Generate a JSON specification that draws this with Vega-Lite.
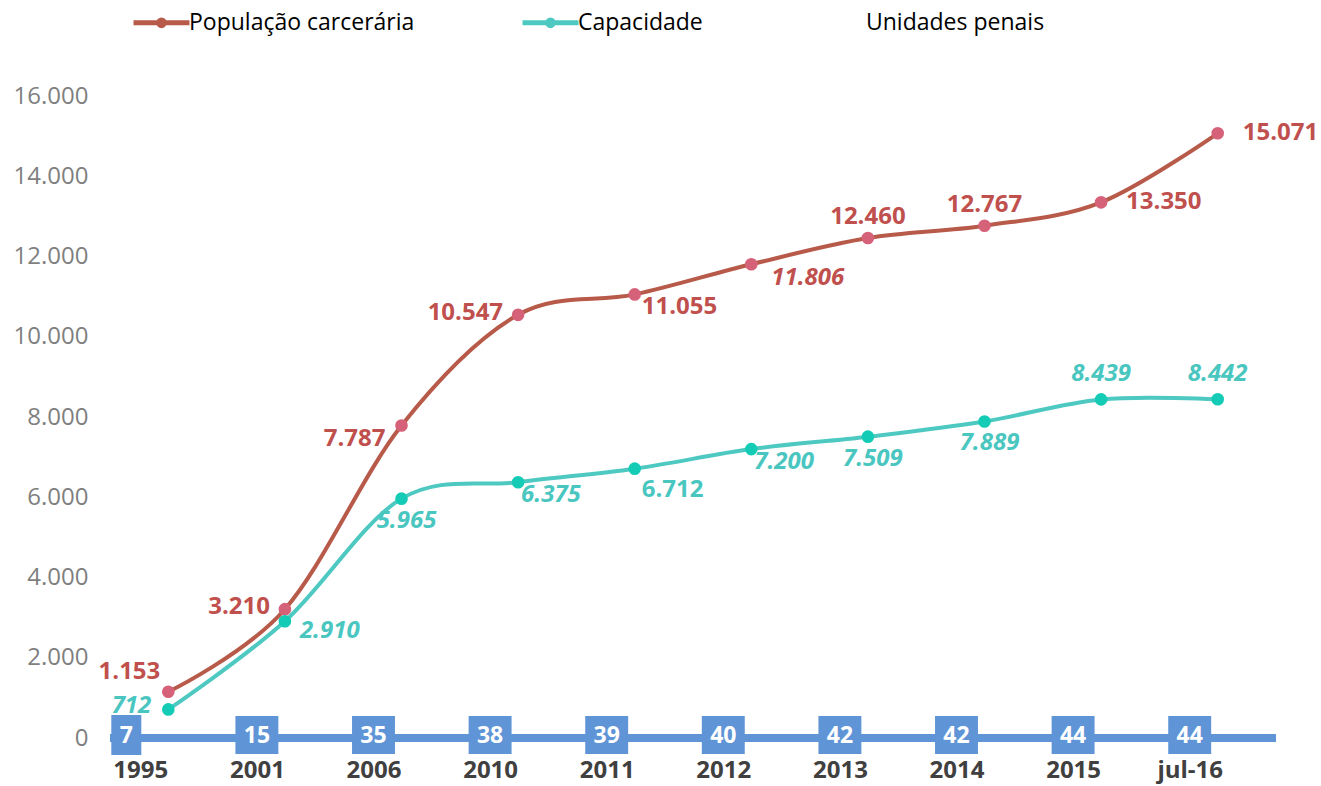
{
  "$schema": "https://vega.github.io/schema/vega-lite/v6.json",
  "width": 1166,
  "height": 642,
  "autosize": "none",
  "padding": {"left": 110, "top": 96, "right": 45, "bottom": 48},
  "background": "#ffffff",
  "config": {
    "locale": {"number": {"decimal": ",", "thousands": ".", "grouping": [3], "currency": ["R$", ""]}},
    "view": {"stroke": null},
    "font": "Open Sans"
  },
  "data": {
    "values": [
      {"ano": "1995", "pop": 1153, "cap": 712, "unid": 7},
      {"ano": "2001", "pop": 3210, "cap": 2910, "unid": 15},
      {"ano": "2006", "pop": 7787, "cap": 5965, "unid": 35},
      {"ano": "2010", "pop": 10547, "cap": 6375, "unid": 38},
      {"ano": "2011", "pop": 11055, "cap": 6712, "unid": 39},
      {"ano": "2012", "pop": 11806, "cap": 7200, "unid": 40},
      {"ano": "2013", "pop": 12460, "cap": 7509, "unid": 42},
      {"ano": "2014", "pop": 12767, "cap": 7889, "unid": 42},
      {"ano": "2015", "pop": 13350, "cap": 8439, "unid": 44},
      {"ano": "jul-16", "pop": 15071, "cap": 8442, "unid": 44}
    ]
  },
  "layer": [
    {
      "mark": {"type": "rule", "color": "#5f95d7", "strokeWidth": 8},
      "encoding": {"y": {"datum": 0, "type": "quantitative"}}
    },
    {
      "encoding": {
        "x": {
          "field": "ano", "type": "ordinal", "sort": null, "title": null,
          "scale": {"type": "point", "padding": 0.5},
          "axis": {"labelAngle": 0, "domain": false, "ticks": false, "grid": false, "labelOffset": -28, "labelPadding": 20, "labelFontSize": 24, "labelFontWeight": "bold", "labelColor": "#404040", "labelFont": "Open Sans"}
        }
      },
      "layer": [
        {
          "mark": {"type": "line", "interpolate": "cardinal", "strokeWidth": 4},
          "encoding": {
            "y": {
              "field": "pop", "type": "quantitative", "title": null,
              "scale": {"domain": [0, 16000], "nice": false},
              "axis": {"values": [0, 2000, 4000, 6000, 8000, 10000, 12000, 14000, 16000], "format": ",d", "domain": false, "ticks": false, "gridColor": "#d9d9d9", "gridWidth": 2, "labelFontSize": 24, "labelColor": "#7f7f7f", "labelPadding": 22, "labelFont": "Open Sans"}
            },
            "color": {
              "datum": "População carcerária", "type": "nominal",
              "scale": {"domain": ["População carcerária", "Capacidade", "Unidades penais"], "range": ["#b85a4a", "#4ec9c2", "#ffffff"]},
              "legend": {"title": null, "orient": "none", "legendX": 21, "legendY": -104, "direction": "horizontal", "symbolType": "M-1,0H1M-0.1,0A0.1,0.1,0,1,1,0.1,0A0.1,0.1,0,1,1,-0.1,0", "symbolSize": 3136, "symbolStrokeWidth": 5, "symbolOpacity": 1, "labelFontSize": 23, "labelColor": "#000000", "labelFont": "Open Sans", "labelOffset": -3, "labelLimit": 0, "columnPadding": 97}
            }
          }
        },
        {
          "mark": {"type": "line", "interpolate": "cardinal", "strokeWidth": 4},
          "encoding": {
            "y": {"field": "cap", "type": "quantitative"},
            "color": {"datum": "Capacidade", "type": "nominal"}
          }
        },
        {
          "mark": {"type": "point", "filled": true, "opacity": 1, "size": 160, "color": "#d6627a"},
          "encoding": {"y": {"field": "pop", "type": "quantitative"}}
        },
        {
          "mark": {"type": "point", "filled": true, "opacity": 1, "size": 160, "color": "#14ccb6"},
          "encoding": {"y": {"field": "cap", "type": "quantitative"}}
        },
        {
          "transform": [{"filter": "datum.unid < 10"}],
          "mark": {"type": "point", "filled": true, "opacity": 1, "shape": "M-0.75,-1H0.75V1H-0.75Z", "size": 1600, "color": "#5f95d7", "xOffset": -42, "yOffset": -3},
          "encoding": {"y": {"datum": 0, "type": "quantitative"}}
        },
        {
          "transform": [{"filter": "datum.unid >= 10"}],
          "mark": {"type": "point", "filled": true, "opacity": 1, "shape": "M-1.13,-1H1.13V1H-1.13Z", "size": 1444, "color": "#5f95d7", "xOffset": -28, "yOffset": -3},
          "encoding": {"y": {"datum": 0, "type": "quantitative"}}
        },
        {
          "transform": [{"filter": "datum.unid < 10"}],
          "mark": {"type": "text", "color": "#ffffff", "fontSize": 23, "fontWeight": "bold", "font": "Open Sans", "baseline": "middle", "xOffset": -42, "yOffset": -2},
          "encoding": {"y": {"datum": 0, "type": "quantitative"}, "text": {"field": "unid"}}
        },
        {
          "transform": [{"filter": "datum.unid >= 10"}],
          "mark": {"type": "text", "color": "#ffffff", "fontSize": 23, "fontWeight": "bold", "font": "Open Sans", "baseline": "middle", "xOffset": -28, "yOffset": -2},
          "encoding": {"y": {"datum": 0, "type": "quantitative"}, "text": {"field": "unid"}}
        },
        {
          "transform": [{"filter": {"field": "ano", "oneOf": ["1995"]}}],
          "mark": {"type": "text", "color": "#c0504d", "fontSize": 24, "fontWeight": "bold", "font": "Open Sans", "baseline": "middle", "align": "right", "dx": -8, "dy": -20},
          "encoding": {"y": {"field": "pop", "type": "quantitative"}, "text": {"field": "pop", "format": ",d"}}
        },
        {
          "transform": [{"filter": {"field": "ano", "oneOf": ["2001", "2010"]}}],
          "mark": {"type": "text", "color": "#c0504d", "fontSize": 24, "fontWeight": "bold", "font": "Open Sans", "baseline": "middle", "align": "right", "dx": -15, "dy": -2},
          "encoding": {"y": {"field": "pop", "type": "quantitative"}, "text": {"field": "pop", "format": ",d"}}
        },
        {
          "transform": [{"filter": {"field": "ano", "oneOf": ["2006"]}}],
          "mark": {"type": "text", "color": "#c0504d", "fontSize": 24, "fontWeight": "bold", "font": "Open Sans", "baseline": "middle", "align": "right", "dx": -16, "dy": 13},
          "encoding": {"y": {"field": "pop", "type": "quantitative"}, "text": {"field": "pop", "format": ",d"}}
        },
        {
          "transform": [{"filter": {"field": "ano", "oneOf": ["2011"]}}],
          "mark": {"type": "text", "color": "#c0504d", "fontSize": 24, "fontWeight": "bold", "font": "Open Sans", "baseline": "middle", "align": "left", "dx": 7, "dy": 13},
          "encoding": {"y": {"field": "pop", "type": "quantitative"}, "text": {"field": "pop", "format": ",d"}}
        },
        {
          "transform": [{"filter": {"field": "ano", "oneOf": ["2012"]}}],
          "mark": {"type": "text", "color": "#c0504d", "fontSize": 24, "fontWeight": "bold", "fontStyle": "italic", "font": "Open Sans", "baseline": "middle", "align": "left", "dx": 20, "dy": 14},
          "encoding": {"y": {"field": "pop", "type": "quantitative"}, "text": {"field": "pop", "format": ",d"}}
        },
        {
          "transform": [{"filter": {"field": "ano", "oneOf": ["2013", "2014"]}}],
          "mark": {"type": "text", "color": "#c0504d", "fontSize": 24, "fontWeight": "bold", "font": "Open Sans", "baseline": "middle", "align": "center", "dy": -21},
          "encoding": {"y": {"field": "pop", "type": "quantitative"}, "text": {"field": "pop", "format": ",d"}}
        },
        {
          "transform": [{"filter": {"field": "ano", "oneOf": ["2015", "jul-16"]}}],
          "mark": {"type": "text", "color": "#c0504d", "fontSize": 24, "fontWeight": "bold", "font": "Open Sans", "baseline": "middle", "align": "left", "dx": 25, "dy": 0},
          "encoding": {"y": {"field": "pop", "type": "quantitative"}, "text": {"field": "pop", "format": ",d"}}
        },
        {
          "transform": [{"filter": {"field": "ano", "oneOf": ["1995"]}}],
          "mark": {"type": "text", "color": "#4ac6c0", "fontSize": 24, "fontWeight": "bold", "fontStyle": "italic", "font": "Open Sans", "baseline": "middle", "align": "right", "dx": -17, "dy": -3},
          "encoding": {"y": {"field": "cap", "type": "quantitative"}, "text": {"field": "cap", "format": ",d"}}
        },
        {
          "transform": [{"filter": {"field": "ano", "oneOf": ["2001"]}}],
          "mark": {"type": "text", "color": "#4ac6c0", "fontSize": 24, "fontWeight": "bold", "fontStyle": "italic", "font": "Open Sans", "baseline": "middle", "align": "left", "dx": 15, "dy": 10},
          "encoding": {"y": {"field": "cap", "type": "quantitative"}, "text": {"field": "cap", "format": ",d"}}
        },
        {
          "transform": [{"filter": {"field": "ano", "oneOf": ["2010", "2012"]}}],
          "mark": {"type": "text", "color": "#4ac6c0", "fontSize": 24, "fontWeight": "bold", "fontStyle": "italic", "font": "Open Sans", "baseline": "middle", "align": "left", "dx": 3, "dy": 13},
          "encoding": {"y": {"field": "cap", "type": "quantitative"}, "text": {"field": "cap", "format": ",d"}}
        },
        {
          "transform": [{"filter": {"field": "ano", "oneOf": ["2011"]}}],
          "mark": {"type": "text", "color": "#4ac6c0", "fontSize": 24, "fontWeight": "bold", "font": "Open Sans", "baseline": "middle", "align": "left", "dx": 7, "dy": 21},
          "encoding": {"y": {"field": "cap", "type": "quantitative"}, "text": {"field": "cap", "format": ",d"}}
        },
        {
          "transform": [{"filter": {"field": "ano", "oneOf": ["2006", "2013", "2014"]}}],
          "mark": {"type": "text", "color": "#4ac6c0", "fontSize": 24, "fontWeight": "bold", "fontStyle": "italic", "font": "Open Sans", "baseline": "middle", "align": "center", "dx": 5, "dy": 22},
          "encoding": {"y": {"field": "cap", "type": "quantitative"}, "text": {"field": "cap", "format": ",d"}}
        },
        {
          "transform": [{"filter": {"field": "ano", "oneOf": ["2015", "jul-16"]}}],
          "mark": {"type": "text", "color": "#4ac6c0", "fontSize": 24, "fontWeight": "bold", "fontStyle": "italic", "font": "Open Sans", "baseline": "middle", "align": "center", "dy": -25},
          "encoding": {"y": {"field": "cap", "type": "quantitative"}, "text": {"field": "cap", "format": ",d"}}
        }
      ]
    }
  ]
}
